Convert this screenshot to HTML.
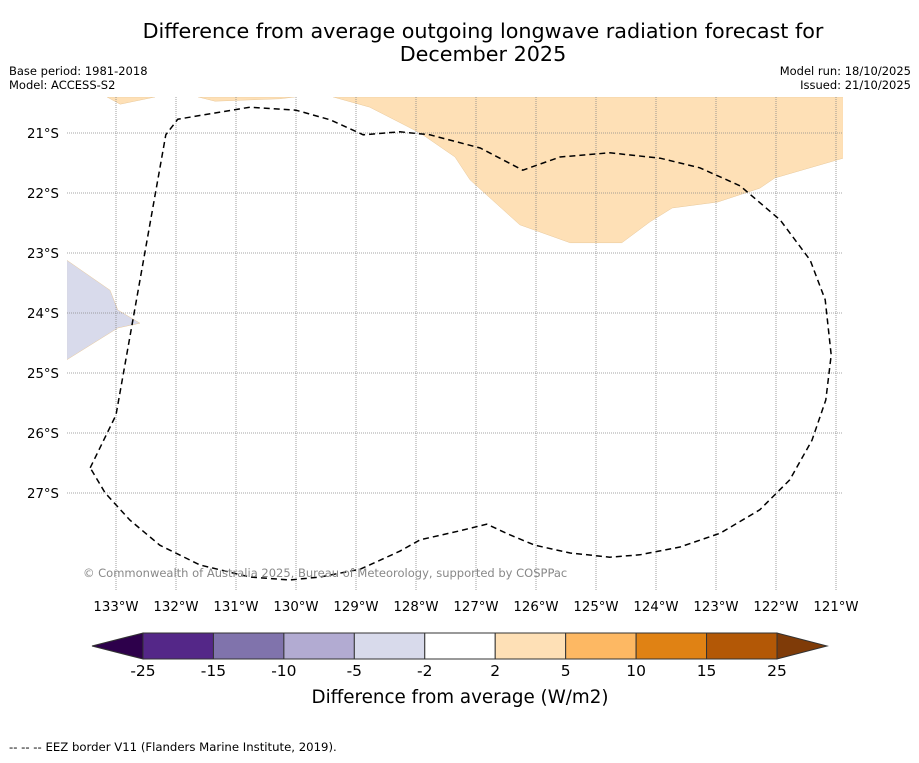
<!DOCTYPE html>
<html><head><meta charset="utf-8"><style>
body{margin:0;background:#fff;font-family:"Liberation Sans","DejaVu Sans",sans-serif}
svg text{font-family:"DejaVu Sans","Liberation Sans",sans-serif}
</style></head><body>
<svg id="c" width="919" height="758" xmlns="http://www.w3.org/2000/svg">
<rect width="919" height="758" fill="#fff"/>
<text x="483" y="38" font-size="20.7" text-anchor="middle">Difference from average outgoing longwave radiation forecast for</text>
<text x="483" y="61" font-size="20.7" text-anchor="middle">December 2025</text>
<text x="9" y="75" font-size="11.5">Base period: 1981-2018</text>
<text x="9" y="89" font-size="11.5">Model: ACCESS-S2</text>
<text x="911" y="75" font-size="11.5" text-anchor="end">Model run: 18/10/2025</text>
<text x="911" y="89" font-size="11.5" text-anchor="end">Issued: 21/10/2025</text>
<defs><clipPath id="mc"><rect x="67" y="97" width="776" height="493"/></clipPath></defs>
<g id="map" clip-path="url(#mc)"></g>
<g id="axes"></g>
<text x="83" y="577" font-size="11.5" fill="#888">© Commonwealth of Australia 2025, Bureau of Meteorology, supported by COSPPac</text>
<g id="cbar"></g>
<text x="460" y="703" font-size="18.3" text-anchor="middle">Difference from average (W/m2)</text>
<text x="9" y="751" font-size="11.7">--  --  -- EEZ border V11 (Flanders Marine Institute, 2019).</text>
</svg>
<script>
const lonTicks=[-133,-132,-131,-130,-129,-128,-127,-126,-125,-124,-123,-122,-121];
const latTicks=[-21,-22,-23,-24,-25,-26,-27];
const eezLon=[-133.43,-133.0,-132.17,-131.97,-130.77,-130.0,-129.43,-128.88,-128.27,-127.77,-126.93,-126.22,-125.6,-124.77,-123.93,-123.27,-122.6,-121.93,-121.43,-121.18,-121.08,-121.17,-121.4,-121.77,-122.27,-122.93,-123.6,-124.27,-124.77,-125.43,-126.02,-126.43,-126.82,-127.27,-127.93,-128.27,-128.93,-129.6,-130.1,-130.77,-131.6,-132.27,-132.77,-133.18,-133.43];
const eezLat=[-26.58,-25.70,-21.03,-20.77,-20.57,-20.62,-20.78,-21.03,-20.98,-21.03,-21.25,-21.62,-21.4,-21.33,-21.42,-21.58,-21.88,-22.45,-23.12,-23.78,-24.7,-25.45,-26.12,-26.78,-27.28,-27.67,-27.9,-28.03,-28.07,-28.0,-27.87,-27.7,-27.52,-27.63,-27.78,-27.97,-28.27,-28.4,-28.45,-28.4,-28.2,-27.87,-27.45,-27.0,-26.58];
const orangeLon=[-129.38,-128.77,-127.93,-127.35,-127.1,-126.27,-125.43,-124.57,-124.1,-123.73,-122.97,-122.27,-122.02,-120.88,-120.88];
const orangeLat=[-20.4,-20.57,-21.0,-21.4,-21.78,-22.53,-22.83,-22.83,-22.48,-22.25,-22.15,-21.92,-21.75,-21.42,-20.4];
const orange2Lon=[-133.15,-132.93,-132.35], orange2Lat=[-20.4,-20.52,-20.4];
const orange3Lon=[-131.63,-131.35,-130.27,-130.02], orange3Lat=[-20.4,-20.47,-20.43,-20.4];
const purpleLon=[-133.82,-133.1,-132.97,-132.6,-132.97,-133.82], purpleLat=[-23.12,-23.62,-23.95,-24.17,-24.25,-24.78];
const cbLevels=[-25,-15,-10,-5,-2,2,5,10,15,25];
const cbColors=["#542788","#8073ac","#b2abd2","#d8daeb","#ffffff","#fee0b6","#fdb863","#e08214","#b35806"];
const cbUnder="#2d004b", cbOver="#7f3b08";

const NS="http://www.w3.org/2000/svg";
const X=lon=>116+(lon+133)*60;
const Y=lat=>133+(-21-lat)*60;
function mk(tag,attrs,parent){const e=document.createElementNS(NS,tag);for(const k in attrs)e.setAttribute(k,attrs[k]);parent.appendChild(e);return e;}
const map=document.getElementById('map'),axes=document.getElementById('axes'),cb=document.getElementById('cbar');
function poly(lons,lats,fill,name){
  const p=mk('polygon',{points:lons.map((l,i)=>X(l)+','+Y(lats[i])).join(' '),fill:fill,stroke:'#e8c89a','stroke-width':0.5},map);
  
  
}
poly(orangeLon,orangeLat,'#fee0b6','anomaly-region-positive');
poly(orange2Lon,orange2Lat,'#fee0b6','anomaly-region-positive-small');
poly(orange3Lon,orange3Lat,'#fee0b6','anomaly-region-positive-small-2');
poly(purpleLon,purpleLat,'#d8daeb','anomaly-region-negative');
lonTicks.forEach(l=>{
  const g=mk('line',{x1:X(l),x2:X(l),y1:97,y2:590,stroke:'#888','stroke-width':0.8,'stroke-dasharray':'1,1'},map);
  
  
  const t=mk('text',{x:X(l),y:611,'font-size':13.3,'text-anchor':'middle'},axes);
  t.textContent=Math.abs(l)+'°W';
  
  
});
latTicks.forEach(l=>{
  const g=mk('line',{x1:67,x2:843,y1:Y(l),y2:Y(l),stroke:'#888','stroke-width':0.8,'stroke-dasharray':'1,1'},map);
  
  
  const t=mk('text',{x:59,y:Y(l)+5,'font-size':13.3,'text-anchor':'end'},axes);
  t.textContent=Math.abs(l)+'°S';
  
  
});
const eez=mk('polyline',{points:eezLon.map((l,i)=>X(l)+','+Y(eezLat[i])).join(' '),fill:'none',stroke:'#000','stroke-width':1.5,'stroke-dasharray':'6,4'},map);


const cx0=143,cx1=777,cy0=633,cy1=659,n=cbColors.length,w=(cx1-cx0)/n;
const ul=mk('polygon',{points:`${cx0},${cy0} ${cx0},${cy1} 92,${(cy0+cy1)/2}`,fill:cbUnder,stroke:'#333','stroke-width':1},cb);


const ov=mk('polygon',{points:`${cx1},${cy0} ${cx1},${cy1} 827,${(cy0+cy1)/2}`,fill:cbOver,stroke:'#333','stroke-width':1},cb);


cbColors.forEach((c,i)=>{
  const r=mk('rect',{x:cx0+i*w,y:cy0,width:w,height:cy1-cy0,fill:c,stroke:'#333','stroke-width':1},cb);
  
  
});
cbLevels.forEach((v,i)=>{
  const t=mk('text',{x:cx0+i*w,y:676,'font-size':15.5,'text-anchor':'middle'},cb);
  t.textContent=v;
  
  
});
</script>
</body></html>
